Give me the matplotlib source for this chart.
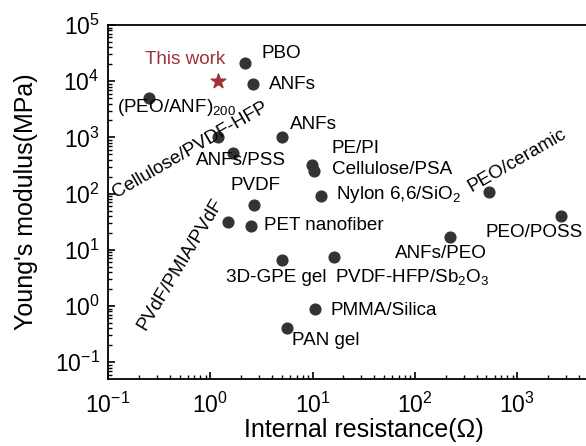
import numpy as np
import matplotlib
matplotlib.use("Agg")
import matplotlib.pyplot as plt

plt.rcParams['font.family'] = ['Liberation Sans', 'DejaVu Sans']
plt.rcParams['mathtext.fontset'] = 'custom'
plt.rcParams['mathtext.rm'] = 'Liberation Sans'
plt.rcParams['mathtext.it'] = 'Liberation Sans:italic'

# literature points: internal resistance (ohm), Young's modulus (MPa)
names = ["PBO", "ANFs", "(PEO/ANF)$_{200}$", "Cellulose/PVDF-HFP", "ANFs/PSS", "ANFs",
         "PE/PI", "Cellulose/PSA", "Nylon 6,6/SiO$_2$", "PEO/ceramic", "PEO/POSS",
         "PVDF", "PVdF/PMIA/PVdF", "PET nanofiber", "3D-GPE gel",
         "PVDF-HFP/Sb$_2$O$_3$", "ANFs/PEO", "PMMA/Silica", "PAN gel"]
res = [2.18, 2.6, 0.25, 1.19, 1.67, 5.0, 9.9, 10.2, 12.0, 525, 2700,
       2.67, 1.49, 2.5, 5.0, 16.2, 222, 10.5, 5.6]
mod = [21000, 8900, 5000, 1000, 525, 1000, 324, 250, 90, 107, 40,
       63, 31, 26, 6.6, 7.4, 17, 0.89, 0.41]

this_res = [1.19]
this_mod = [10000]

# label offsets in points from the dot (left edge of text)
offs = [(12, 7), (12, 0), (-23, -7), None, (-27, -5), (6, 9),
        (14, 12), (13, 1), (11, 1), None, (-55, -12),
        (-17, 14), None, (9, 1), (-40, -13),
        (1, -14), (-40, -12), (11, -1), (4, -9)]

fs = 13.6

fig = plt.figure(figsize=(5.86, 4.46), dpi=100)
ax = fig.add_axes([0.1843, 0.1502, 0.873, 0.7937])

ax.scatter(res, mod, s=60, color='#333333', zorder=3)
ax.scatter(this_res, this_mod, s=120, marker='*', color='#a0313b', zorder=3)
ax.text(185 / 586, 1 - 60 / 446, "This work", transform=fig.transFigure,
        color='#a0313b', fontsize=fs, ha='center', va='center')

for n, x, y, o in zip(names, res, mod, offs):
    if o is None:
        continue
    ax.annotate(n, (x, y), xytext=o, textcoords='offset points',
                fontsize=fs, ha='left', va='center')

# rotated labels
ax.text(190 / 586, 1 - 150 / 446, "Cellulose/PVDF-HFP", transform=fig.transFigure,
        fontsize=fs, rotation=30, ha='center', va='center')
ax.text(517 / 586, 1 - 160 / 446, "PEO/ceramic", transform=fig.transFigure,
        fontsize=fs, rotation=30, ha='center', va='center')
ax.text(180 / 586, 1 - 264 / 446, "PVdF/PMIA/PVdF", transform=fig.transFigure,
        fontsize=fs, rotation=59, ha='center', va='center')

ax.set_xscale('log')
ax.set_yscale('log')
ax.set_xlim(0.1, 1e4)
ax.set_ylim(10 ** -1.3, 1e5)
ax.set_xticks([0.1, 1, 10, 100, 1000])
ax.set_yticks([0.1, 1, 10, 100, 1000, 10000, 100000])

ax.tick_params(which='both', direction='in', top=False, right=False)
ax.tick_params(which='major', length=5, width=1.2, labelsize=16.5)
ax.tick_params(axis='x', which='major', pad=10)
ax.tick_params(axis='y', which='major', pad=6)
ax.tick_params(which='minor', length=3, width=1)
for s in ax.spines.values():
    s.set_linewidth(1.3)

ax.set_xlabel("Internal resistance(\u03a9)", fontsize=18, labelpad=0)
ax.set_ylabel("Young's modulus(MPa)", fontsize=18, labelpad=12)

fig.savefig("out.png", dpi=100)
